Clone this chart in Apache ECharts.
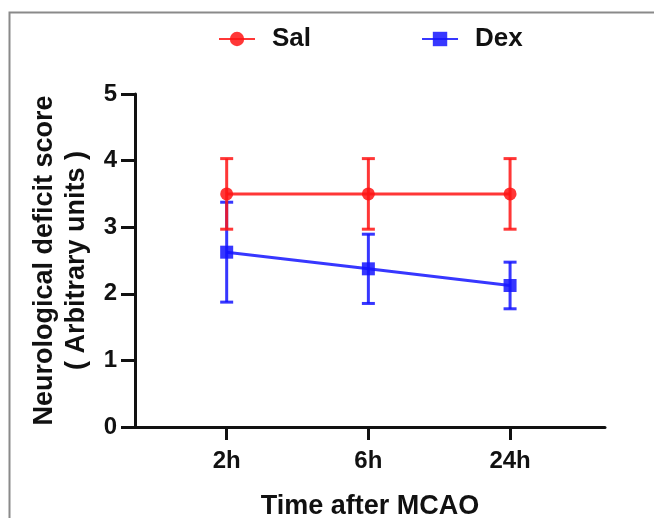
<!DOCTYPE html>
<html>
<head>
<meta charset="utf-8">
<script src="https://cdn.jsdelivr.net/npm/echarts@6/dist/echarts.min.js"></script>
<style>
  html, body { margin: 0; padding: 0; background: #fff; }
  #chart1 { width: 654px; height: 518px; }
</style>
</head>
<body>
<div id="chart1"></div>
<script>
const timePoints = ['2h', '6h', '24h'];
const salMean = [3.5, 3.5, 3.5];
const salErr = [0.53, 0.53, 0.53];
const dexMean = [2.625, 2.375, 2.125];
const dexErr = [0.75, 0.52, 0.35];
const yTicks = [0, 1, 2, 3, 4, 5];

const salColor = 'rgba(255, 20, 20, 0.85)';
const dexColor = 'rgba(20, 20, 255, 0.85)';
const font = '"Liberation Sans", Arial, sans-serif';

// x positions 1, 2, 3 stand for the three time points
const salLine = salMean.map((v, i) => [i + 1, v]);
const dexLine = dexMean.map((v, i) => [i + 1, v]);
const salBars = salMean.map((v, i) => [i + 1, v - salErr[i], v + salErr[i]]);
const dexBars = dexMean.map((v, i) => [i + 1, v - dexErr[i], v + dexErr[i]]);

function errorBar(color) {
  return function (params, api) {
    const x = api.value(0);
    const lo = api.coord([x, api.value(1)]);
    const hi = api.coord([x, api.value(2)]);
    const half = 6.5;
    const style = { stroke: color, lineWidth: 3 };
    return {
      type: 'group',
      children: [
        { type: 'line', shape: { x1: lo[0], y1: lo[1], x2: hi[0], y2: hi[1] }, style: style },
        { type: 'line', shape: { x1: lo[0] - half, y1: lo[1], x2: lo[0] + half, y2: lo[1] }, style: style },
        { type: 'line', shape: { x1: hi[0] - half, y1: hi[1], x2: hi[0] + half, y2: hi[1] }, style: style }
      ]
    };
  };
}

const chart1 = echarts.init(document.getElementById('chart1'));

const option = {
  animation: false,
  backgroundColor: '#fff',
  graphic: [{
    type: 'rect',
    left: 7, top: 10,
    shape: { width: 700, height: 560 },
    style: { fill: 'none', stroke: '#8a8a8a', lineWidth: 2 },
    silent: true
  }],
  legend: {
    top: 21,
    left: 213,
    itemWidth: 36,
    itemHeight: 18,
    itemGap: 110,
    textStyle: { fontFamily: font, fontWeight: 'bold', fontSize: 26, color: '#111', padding: [0, 0, 0, 12] },
    data: ['Sal', 'Dex']
  },
  grid: { left: 135, right: 49, top: 94, bottom: 91, containLabel: false, outerBoundsMode: 'none' },
  xAxis: {
    type: 'value',
    min: 0.353,
    max: 3.67,
    name: 'Time after MCAO',
    nameLocation: 'middle',
    nameGap: 66,
    nameTextStyle: { fontFamily: font, fontWeight: 'bold', fontSize: 27, color: '#111' },
    splitLine: { show: false },
    axisLine: { lineStyle: { color: '#111', width: 3 } },
    axisTick: { show: true, length: 13, lineStyle: { color: '#111', width: 3 }, customValues: [1, 2, 3] },
    axisLabel: {
      customValues: [1, 2, 3],
      formatter: v => timePoints[Math.round(v) - 1],
      margin: 22,
      fontFamily: font, fontWeight: 'bold', fontSize: 24, color: '#111'
    }
  },
  yAxis: {
    type: 'value',
    min: yTicks[0],
    max: yTicks[yTicks.length - 1],
    interval: 1,
    name: 'Neurological deficit score\n( Arbitrary units )',
    nameLocation: 'middle',
    nameGap: 37,
    nameRotate: 90,
    nameTextStyle: { fontFamily: font, fontWeight: 'bold', fontSize: 27, color: '#111', lineHeight: 32 },
    splitLine: { show: false },
    axisLine: { show: true, lineStyle: { color: '#111', width: 3 } },
    axisTick: { show: true, length: 14, lineStyle: { color: '#111', width: 3 } },
    axisLabel: { margin: 18, fontFamily: font, fontWeight: 'bold', fontSize: 24, color: '#111' }
  },
  series: [
    {
      name: 'Dex', type: 'line', data: dexLine,
      symbol: 'rect', symbolSize: 13,
      itemStyle: { color: dexColor },
      lineStyle: { color: dexColor, width: 3 },
      z: 3
    },
    {
      type: 'custom', data: dexBars, renderItem: errorBar(dexColor),
      encode: { x: 0, y: [1, 2] }, z: 3
    },
    {
      name: 'Sal', type: 'line', data: salLine,
      symbol: 'circle', symbolSize: 13,
      itemStyle: { color: salColor },
      lineStyle: { color: salColor, width: 3 },
      z: 4
    },
    {
      type: 'custom', data: salBars, renderItem: errorBar(salColor),
      encode: { x: 0, y: [1, 2] }, z: 4
    }
  ]
};

chart1.setOption(option);
</script>
</body>
</html>
